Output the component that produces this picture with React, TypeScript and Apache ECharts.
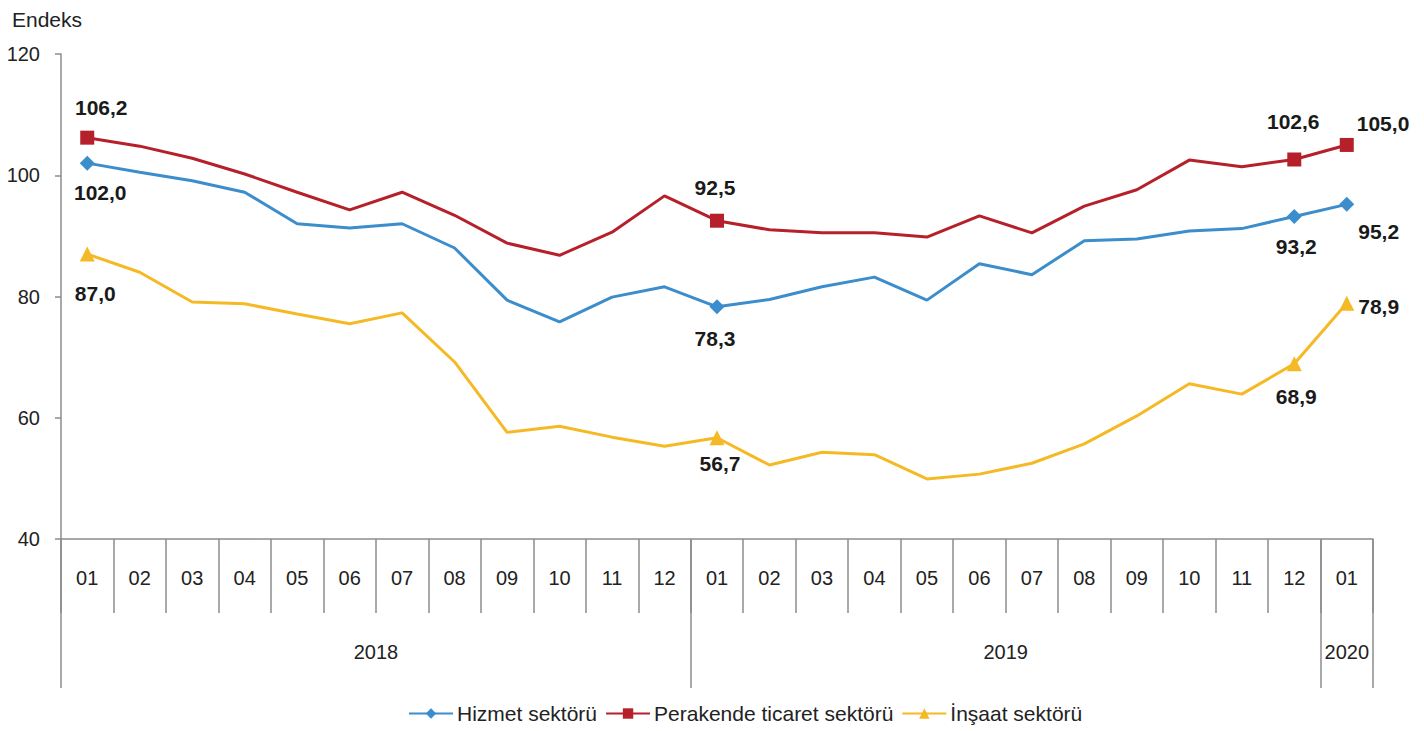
import React, { useEffect, useRef } from "react";
import * as echarts from "echarts";

const months = ["01","02","03","04","05","06","07","08","09","10","11","12","01","02","03","04","05","06","07","08","09","10","11","12","01"];
const yearLabels = ["2018", "2019", "2020"];
const yearCenters = [6, 18, 24.5];
const yearBounds = [0, 12, 24, 25];
const yTicks = [40, 60, 80, 100, 120];

const hizmet = [102.0,100.5,99.1,97.2,92.0,91.3,92.0,88.0,79.4,75.8,79.9,81.6,78.3,79.5,81.6,83.2,79.4,85.4,83.6,89.2,89.5,90.8,91.2,93.2,95.2];
const perakende = [106.2,104.8,102.8,100.2,97.2,94.3,97.2,93.4,88.8,86.8,90.6,96.6,92.5,91.0,90.5,90.5,89.8,93.3,90.5,94.9,97.6,102.5,101.4,102.6,105.0];
const insaat = [87.0,84.0,79.1,78.8,77.1,75.5,77.3,69.2,57.6,58.6,56.8,55.3,56.7,52.2,54.3,53.9,49.9,50.7,52.5,55.7,60.3,65.6,63.9,68.9,78.9];

const labeledIdx = [0, 12, 23, 24];

type LabelSpec = { position: string; offset: [number, number] };
const hizmetLabels: LabelSpec[] = [
  { position: "bottom", offset: [13, 6] },
  { position: "bottom", offset: [-2, 9] },
  { position: "bottom", offset: [2, 7] },
  { position: "right", offset: [-1, 27] },
];
const perakendeLabels: LabelSpec[] = [
  { position: "top", offset: [14, -8] },
  { position: "top", offset: [-2, -11] },
  { position: "top", offset: [-1, -15] },
  { position: "right", offset: [-2, -21] },
];
const insaatLabels: LabelSpec[] = [
  { position: "bottom", offset: [8, 16] },
  { position: "bottom", offset: [3, 3] },
  { position: "bottom", offset: [2, 10] },
  { position: "right", offset: [-1, 3] },
];

const FONT = "'Liberation Sans', Arial, sans-serif";

function buildData(values: number[], labels: LabelSpec[]) {
  return values.map((v, i) => {
    const k = labeledIdx.indexOf(i);
    if (k < 0) return { value: v, symbol: "none", label: { show: false } };
    return {
      value: v,
      label: {
        show: true,
        position: labels[k].position,
        offset: labels[k].offset,
        formatter: (p: any) => Number(p.value).toFixed(1).replace(".", ","),
        fontFamily: FONT,
        fontWeight: "bold",
        fontSize: 21,
        color: "#1a1a1a",
      },
    };
  });
}

export default function App() {
  const ref = useRef<HTMLDivElement>(null);
  useEffect(() => {
    if (!ref.current) return;
    const chart = echarts.init(ref.current, undefined, { renderer: "svg" });
    const axisColor = "#8c8c8c";
    chart.setOption({
      animation: false,
      backgroundColor: "#ffffff",
      title: {
        text: "Endeks",
        left: 12,
        top: 9,
        padding: 0,
        textStyle: { fontFamily: FONT, fontSize: 21, fontWeight: "normal", color: "#222" },
      },
      grid: { left: 61, right: 51, top: 54, bottom: 192 },
      legend: {
        top: 703,
        left: 408,
        padding: 0,
        itemWidth: 44,
        itemHeight: 13,
        itemGap: 8,
        textStyle: { fontFamily: FONT, fontSize: 21, color: "#222", padding: [0, 0, 0, -1] },
        data: ["Hizmet sektörü", "Perakende ticaret sektörü", "İnşaat sektörü"],
      },
      xAxis: [
        {
          type: "category",
          data: months,
          boundaryGap: true,
          axisLine: { show: true, lineStyle: { color: axisColor, width: 1.5 } },
          axisTick: { show: true, interval: 0, length: 74, lineStyle: { color: axisColor, width: 1.5 } },
          axisLabel: { interval: 0, margin: 29, fontFamily: FONT, fontSize: 20, color: "#222" },
          splitLine: { show: false },
        },
        {
          type: "value",
          min: 0,
          max: 25,
          position: "bottom",
          axisLine: { show: false },
          axisTick: { show: true, customValues: yearBounds, length: 149, lineStyle: { color: axisColor, width: 1.5 } },
          axisLabel: {
            customValues: yearCenters,
            margin: 103,
            fontFamily: FONT,
            fontSize: 20,
            color: "#222",
            formatter: (v: number) => {
              const k = yearCenters.indexOf(v);
              return k >= 0 ? yearLabels[k] : "";
            },
          },
          splitLine: { show: false },
        },
      ],
      yAxis: {
        type: "value",
        min: yTicks[0],
        max: yTicks[yTicks.length - 1],
        interval: 20,
        axisLine: { show: true, lineStyle: { color: axisColor, width: 1.5 } },
        axisTick: { show: true, length: 6, lineStyle: { color: axisColor, width: 1.5 } },
        axisLabel: { margin: 21, fontFamily: FONT, fontSize: 20, color: "#222" },
        splitLine: { show: false },
      },
      series: [
        {
          name: "Hizmet sektörü",
          type: "line",
          xAxisIndex: 0,
          data: buildData(hizmet, hizmetLabels),
          symbol: "diamond",
          symbolSize: 15,
          lineStyle: { width: 3, color: "#3b8dcc" },
          itemStyle: { color: "#3b8dcc" },
          z: 3,
        },
        {
          name: "Perakende ticaret sektörü",
          type: "line",
          xAxisIndex: 0,
          data: buildData(perakende, perakendeLabels),
          symbol: "rect",
          symbolSize: 14,
          lineStyle: { width: 3, color: "#b5202a" },
          itemStyle: { color: "#b5202a" },
          z: 3,
        },
        {
          name: "İnşaat sektörü",
          type: "line",
          xAxisIndex: 0,
          data: buildData(insaat, insaatLabels),
          symbol: "triangle",
          symbolSize: 15,
          lineStyle: { width: 3, color: "#f5b925" },
          itemStyle: { color: "#f5b925" },
          z: 3,
        },
      ],
    });
    return () => chart.dispose();
  }, []);
  return <div ref={ref} style={{ position: "absolute", left: 0, top: 0, width: 1424, height: 731 }} />;
}
